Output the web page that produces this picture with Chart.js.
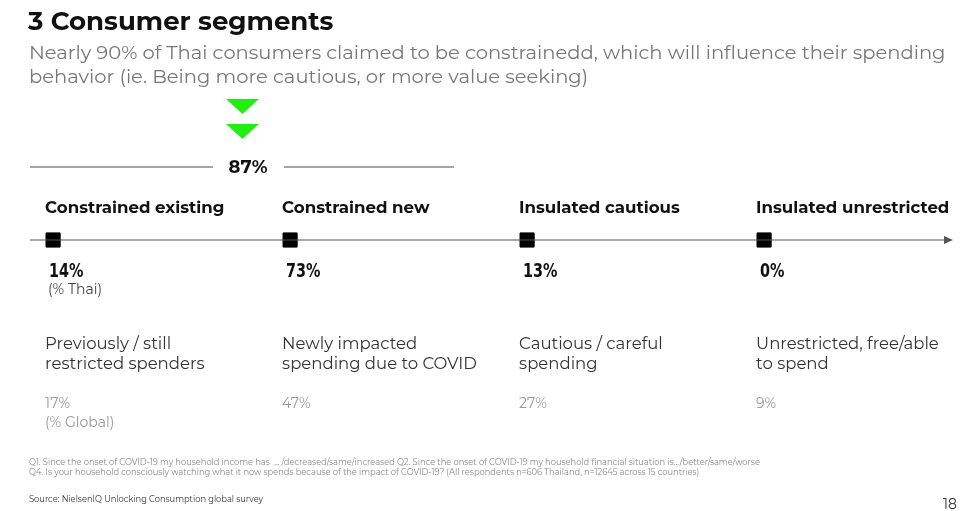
<!DOCTYPE html>
<html><head><meta charset="utf-8">
<script src="https://cdn.jsdelivr.net/npm/chart.js@4"></script>
<style>html,body{margin:0;padding:0;background:#fff;}#c{display:block;}</style>
</head><body>
<div style="width:980px;height:511px;position:relative"><canvas id="c"></canvas></div>
<script>
const categories = ["Constrained existing","Constrained new","Insulated cautious","Insulated unrestricted"];
const thaiShare = [14, 73, 13, 0];
const globalShare = [17, 47, 27, 9];
const descriptions = [["Previously / still","restricted spenders"],["Newly impacted","spending due to COVID"],["Cautious / careful","spending"],["Unrestricted, free/able","to spend"]];
const constrainedTotal = 87;

const F = '"Montserrat","Open Sans",sans-serif';
const N = '"Liberation Sans Narrow","DejaVu Sans Condensed",sans-serif';
const deco = {
  id:'deco',
  afterDraw(chart){
    const c = chart.ctx, xs = chart.scales.x, ys = chart.scales.y;
    const y0 = ys.getPixelForValue(0);
    c.save();
    c.textBaseline='alphabetic'; c.textAlign='left';
    c.fillStyle='#111'; c.font='bold 26px '+F; c.fillText('3 Consumer segments',28,30);
    c.fillStyle='#777'; c.font='19.5px '+F;
    c.fillText('Nearly 90% of Thai consumers claimed to be constrainedd, which will influence their spending',29,59);
    c.fillText('behavior (ie. Being more cautious, or more value seeking)',29,83);
    c.fillStyle='#22ee11';
    [[99,114],[124,139]].forEach(([a,b])=>{c.beginPath();c.moveTo(226,a);c.lineTo(259,a);c.lineTo(242.5,b);c.closePath();c.fill();});
    c.strokeStyle='#888'; c.lineWidth=1.5;
    c.beginPath();c.moveTo(30,167);c.lineTo(213,167);c.moveTo(284,167);c.lineTo(454,167);c.stroke();
    c.fillStyle='#111'; c.font='bold 18px '+F; c.textAlign='center';
    c.fillText(constrainedTotal+'%',248,173);
    c.strokeStyle='#555'; c.lineWidth=1;
    c.beginPath();c.moveTo(30,y0);c.lineTo(946,y0);c.stroke();
    c.fillStyle='#555';c.beginPath();c.moveTo(953,y0);c.lineTo(944,y0-4);c.lineTo(944,y0+4);c.closePath();c.fill();
    c.textAlign='left';
    categories.forEach((cat,i)=>{
      const x = xs.getPixelForValue(i)-8;
      c.fillStyle='#111'; c.font='bold 16.6px '+F; c.fillText(cat,x,213);
      c.save(); c.translate(x+4,277); c.scale(0.8,1);
      c.font='bold 20px '+N; c.fillText(thaiShare[i]+'%',0,0); c.restore();
      c.fillStyle='#333'; c.font='16.5px '+F;
      c.fillText(descriptions[i][0],x,349); c.fillText(descriptions[i][1],x,369);
      c.fillStyle='#999'; c.font='14px '+F; c.fillText(globalShare[i]+'%',x,408);
    });
    c.fillStyle='#444'; c.font='14px '+F; c.fillText('(% Thai)',48,294);
    c.fillStyle='#999'; c.fillText('(% Global)',45,427);
    c.fillStyle='#888'; c.font='8.3px '+F;
    c.fillText('Q1. Since the onset of COVID-19 my household income has  ... /decreased/same/increased Q2. Since the onset of COVID-19 my household financial situation is.../better/same/worse',29,465);
    c.fillText('Q4. Is your household consciously watching what it now spends because of the impact of COVID-19? (All respondents n=606 Thailand, n=12645 across 15 countries)',29,475);
    c.fillStyle='#333'; c.font='8.3px '+F;
    c.fillText('Source: NielsenIQ Unlocking Consumption global survey',29,502);
    c.font='14px '+F; c.fillText('18',943,509);
    c.restore();
  }
};
new Chart(document.getElementById('c'),{
  type:'scatter',
  data:{datasets:[{data:categories.map((_,i)=>({x:i,y:0})),pointStyle:'rect',pointRadius:10,pointHoverRadius:10,backgroundColor:'#000',borderColor:'#000',borderWidth:1}]},
  options:{responsive:true,maintainAspectRatio:false,animation:false,
    layout:{padding:0,autoPadding:false},
    plugins:{legend:{display:false},tooltip:{enabled:false}},
    scales:{x:{display:false,min:-0.224,max:3.911},y:{display:false,min:-271,max:240}}},
  plugins:[deco]
});
</script></body></html>
